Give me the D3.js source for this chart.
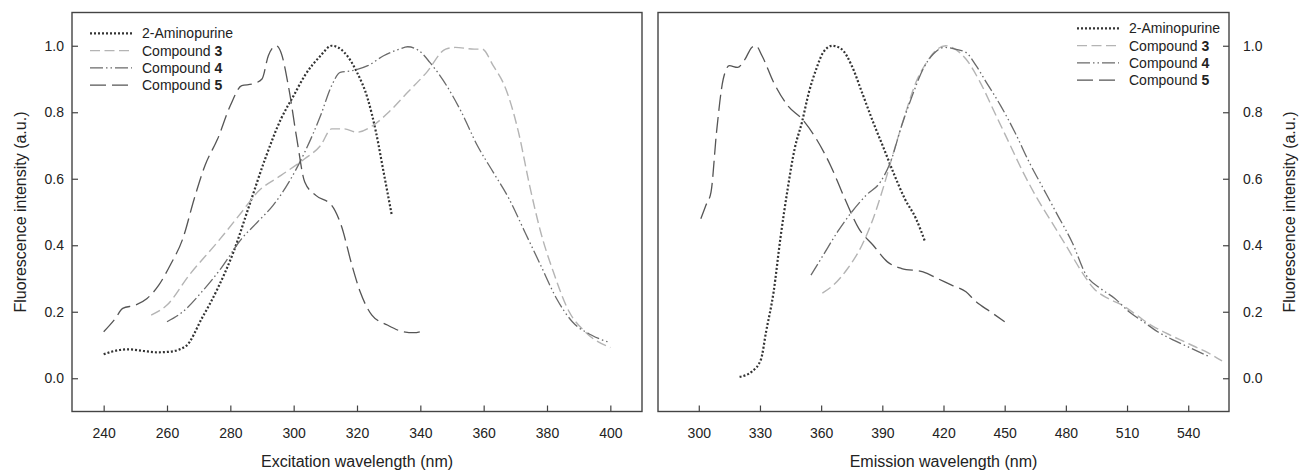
<!DOCTYPE html>
<html><head><meta charset="utf-8">
<script src="https://cdn.jsdelivr.net/npm/d3@7"></script>
<style>
html,body{margin:0;padding:0;background:#fff;}
svg text{font-family:"Liberation Sans",Arial,sans-serif;fill:#222;}
</style></head>
<body><svg id="c" width="1299" height="472"></svg>
<script>
// ---------- Data ----------
const seriesNames = ["2-Aminopurine", "Compound ", "Compound ", "Compound "];
const seriesNumbers = ["", "3", "4", "5"];
const exTicks = [240, 260, 280, 300, 320, 340, 360, 380, 400];
const emTicks = [300, 330, 360, 390, 420, 450, 480, 510, 540];
const yTicks = [0.0, 0.2, 0.4, 0.6, 0.8, 1.0];
const exDomain = [230, 410];
const emDomain = [280, 560];
const yDomain = [-0.1, 1.1];

// Excitation spectra [nm, intensity]
const exAP = [[240,0.072],[245,0.085],[248,0.087],[252.5,0.082],[257,0.078],[261,0.08],[266,0.097],[271,0.18],[276,0.27],[281,0.38],[286,0.52],[291,0.66],[296,0.78],[300,0.85],[303.5,0.91],[308.5,0.97],[312,1.0],[316,0.98],[320,0.92],[323.4,0.84],[326,0.74],[328.4,0.62],[331,0.49]];
const exC3 = [[255,0.19],[260,0.22],[267,0.31],[276,0.41],[283.6,0.5],[288.6,0.56],[296,0.61],[303.5,0.66],[308.5,0.7],[312,0.75],[316,0.75],[320,0.74],[325,0.76],[330,0.8],[336,0.86],[342,0.92],[348,0.99],[351,0.995],[357,0.99],[359.5,0.99],[363,0.94],[367,0.87],[371,0.74],[374.5,0.58],[378,0.44],[382,0.32],[387,0.2],[392,0.14],[400,0.092]];
const exC4 = [[260,0.17],[265,0.2],[271,0.26],[277,0.33],[283.6,0.42],[288.6,0.47],[293.5,0.52],[298.5,0.59],[303.5,0.68],[308.5,0.79],[312,0.88],[314.7,0.92],[318.4,0.925],[323.4,0.94],[328.4,0.97],[333.4,0.99],[336,0.997],[339.6,0.985],[343,0.95],[348.3,0.88],[353,0.8],[358,0.7],[363,0.62],[368,0.54],[373,0.44],[378,0.34],[383,0.24],[388,0.17],[394,0.13],[400,0.107]];
const exC5 = [[240,0.14],[243.7,0.18],[246,0.21],[250,0.22],[253.7,0.24],[257.4,0.28],[261,0.34],[265,0.42],[268.6,0.54],[272,0.64],[276,0.72],[280,0.82],[283.6,0.88],[287,0.885],[290,0.9],[292,0.97],[294.5,1.0],[296,0.98],[298.5,0.87],[301,0.72],[303.5,0.59],[307,0.55],[312,0.52],[315,0.46],[318.4,0.34],[321,0.26],[324.7,0.19],[329.6,0.16],[334.6,0.14],[338,0.137],[340,0.14]];

// Emission spectra [nm, intensity]
const emAP = [[320,0.004],[326,0.02],[330.5,0.057],[333,0.14],[336.7,0.26],[340,0.42],[343.6,0.57],[347,0.69],[350.6,0.77],[354,0.86],[357.6,0.93],[361,0.98],[365.5,1.0],[370,0.99],[375,0.94],[380,0.86],[385.5,0.77],[390.8,0.69],[396,0.61],[401,0.54],[406.5,0.48],[411,0.41]];
const emC3 = [[360.6,0.256],[366,0.28],[373,0.33],[380,0.4],[385.5,0.48],[390.8,0.58],[396,0.69],[401,0.79],[406.5,0.89],[411.7,0.95],[417,0.99],[421,1.0],[425.7,0.99],[431,0.96],[438,0.89],[445,0.8],[452,0.71],[459,0.62],[466,0.54],[473,0.47],[480,0.4],[486.8,0.33],[493.7,0.27],[500.7,0.24],[507.7,0.22],[514.7,0.19],[521.7,0.16],[528.7,0.137],[535.6,0.117],[542.6,0.097],[549.6,0.077],[556.6,0.052]];
const emC4 = [[355,0.31],[361,0.37],[368,0.44],[375,0.5],[382,0.55],[389,0.59],[394,0.65],[399.5,0.76],[404.7,0.85],[410,0.93],[415,0.975],[420.4,0.995],[425.7,0.99],[431,0.98],[436,0.94],[441,0.89],[448,0.82],[455,0.74],[462,0.65],[469,0.57],[476,0.49],[483,0.41],[490,0.31],[497,0.27],[504,0.24],[511,0.2],[518,0.17],[525,0.14],[532,0.117],[539,0.097],[546,0.077],[549.6,0.067]];
const emC5 = [[301,0.48],[303.5,0.52],[306,0.56],[308.7,0.74],[312,0.9],[315,0.94],[319,0.935],[322.7,0.96],[326,0.995],[328,1.0],[331,0.97],[336.7,0.89],[343.6,0.82],[350.6,0.78],[357.6,0.72],[364.6,0.64],[371.6,0.54],[378.5,0.45],[385.5,0.4],[392.5,0.35],[399.5,0.33],[410,0.32],[417,0.3],[424,0.28],[431,0.26],[436,0.23],[443,0.2],[450,0.17]];

// ---------- Styles ----------
const styles = [
  {stroke:"#333", width:2.2, dash:"2,2"},
  {stroke:"#b4b4b4", width:1.4, dash:"10,4.5"},
  {stroke:"#6a6a6a", width:1.3, dash:"13,3,1.5,3,1.5,3"},
  {stroke:"#555", width:1.3, dash:"16,6"}
];

const svg = d3.select("#c");
const yTop = 12.5, yBot = 411.5;
const y = d3.scaleLinear().domain(yDomain).range([yBot, yTop]);
const frameColor = "#444";

function panel(opts) {
  const x = d3.scaleLinear().domain(opts.domain).range([opts.x0, opts.x1]);
  const g = svg.append("g");
  const xAxis = d3.axisBottom(x).tickValues(opts.ticks).tickSize(-6).tickPadding(17).tickFormat(d3.format("d"));
  const gx = g.append("g").attr("transform", `translate(0,${yBot})`).call(xAxis);
  gx.select(".domain").remove();
  gx.selectAll(".tick line").attr("stroke", frameColor).attr("stroke-width", 1.2);
  gx.selectAll(".tick text").attr("font-size", 14).attr("fill", "#222").attr("dy", "0.71em");
  let gy;
  if (opts.yRight) {
    gy = g.append("g").attr("transform", `translate(${opts.x1},0)`)
      .call(d3.axisRight(y).tickValues(yTicks).tickSize(-6).tickPadding(14).tickFormat(d3.format(".1f")));
  } else {
    gy = g.append("g").attr("transform", `translate(${opts.x0},0)`)
      .call(d3.axisLeft(y).tickValues(yTicks).tickSize(-6).tickPadding(8).tickFormat(d3.format(".1f")));
  }
  gy.select(".domain").remove();
  gy.selectAll(".tick line").attr("stroke", frameColor).attr("stroke-width", 1.2);
  gy.selectAll(".tick text").attr("font-size", 14).attr("fill", "#222");
  g.append("rect").attr("x", opts.x0).attr("y", yTop).attr("width", opts.x1 - opts.x0).attr("height", yBot - yTop)
    .attr("fill", "none").attr("stroke", frameColor).attr("stroke-width", 1.4);
  const line = d3.line().x(d => x(d[0])).y(d => y(d[1])).curve(d3.curveMonotoneX);
  opts.series.forEach((s, i) => {
    const st = styles[i];
    g.append("path").attr("d", line(s)).attr("fill", "none").attr("stroke", st.stroke)
      .attr("stroke-width", st.width).attr("stroke-dasharray", st.dash)
      .attr("stroke-linejoin", "round");
  });
  g.append("text").attr("x", (opts.x0 + opts.x1) / 2).attr("y", 467).attr("text-anchor", "middle")
    .attr("font-size", 16).text(opts.xTitle);
  g.append("text").attr("transform", `translate(${opts.yTitleX},${(yTop + yBot) / 2}) rotate(-90)`)
    .attr("text-anchor", "middle").attr("dy", "0.35em").attr("font-size", 16).text("Fluorescence intensity (a.u.)");
  const lg = g.append("g");
  seriesNames.forEach((n, i) => {
    const yy = opts.legY + i * 17.3;
    const st = styles[i];
    lg.append("line").attr("x1", opts.legX).attr("x2", opts.legX + 42).attr("y1", yy).attr("y2", yy)
      .attr("stroke", st.stroke).attr("stroke-width", st.width).attr("stroke-dasharray", st.dash);
    const t = lg.append("text").attr("x", opts.legX + 52).attr("y", yy).attr("dy", "0.35em").attr("font-size", 14);
    t.append("tspan").text(n);
    if (seriesNumbers[i]) t.append("tspan").attr("font-weight", "bold").text(seriesNumbers[i]);
  });
}

panel({domain: exDomain, x0: 72, x1: 642, ticks: exTicks, series: [exAP, exC3, exC4, exC5],
  xTitle: "Excitation wavelength (nm)", yRight: false, yTitleX: 20, legX: 90, legY: 33.3});
panel({domain: emDomain, x0: 658, x1: 1229, ticks: emTicks, series: [emAP, emC3, emC4, emC5],
  xTitle: "Emission wavelength (nm)", yRight: true, yTitleX: 1289, legX: 1077, legY: 28.3});
</script></body></html>
